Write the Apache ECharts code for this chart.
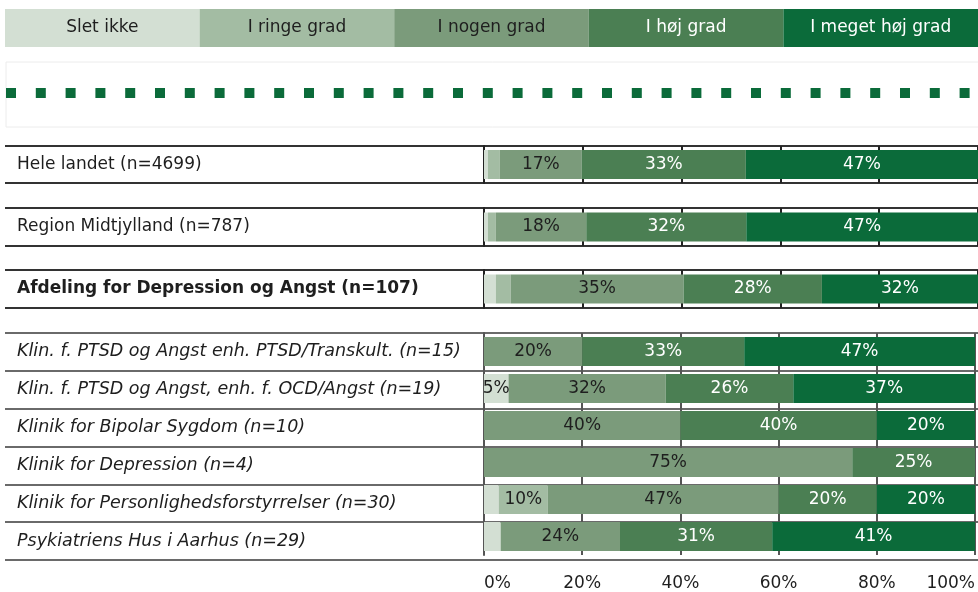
<!DOCTYPE html>
<html>
<head>
<meta charset="utf-8">
<script src="https://cdn.jsdelivr.net/npm/echarts@6/dist/echarts.min.js"></script>
<style>
  html, body { margin: 0; padding: 0; background: #fff; }
  #main { width: 978px; height: 592px; }
</style>
</head>
<body>
<div id="main"></div>
<script>
// svarkategorier (legend øverst)
var categories = ['Slet ikke', 'I ringe grad', 'I nogen grad', 'I høj grad', 'I meget høj grad'];
var colors = ['#d3dfd3', '#a3bca3', '#7b9b7b', '#4b7f53', '#0b6b3a'];
var labelColors = ['#1e1e1e', '#1e1e1e', '#1e1e1e', '#ffffff', '#ffffff'];

// rækker
var rowNames = [
    'Hele landet (n=4699)',
    'Region Midtjylland (n=787)',
    'Afdeling for Depression og Angst (n=107)',
    'Klin. f. PTSD og Angst enh. PTSD/Transkult. (n=15)',
    'Klin. f. PTSD og Angst, enh. f. OCD/Angst (n=19)',
    'Klinik for Bipolar Sygdom (n=10)',
    'Klinik for Depression (n=4)',
    'Klinik for Personlighedsforstyrrelser (n=30)',
    'Psykiatriens Hus i Aarhus (n=29)'
];

// procenter pr. svarkategori, samme rækkefølge som rowNames
var sletIkke   = [0.8, 0.8, 2.4, 0, 5, 0, 0, 3, 3.4];
var ringeGrad  = [2.4, 1.6, 3, 0, 0, 0, 0, 10, 0];
var nogenGrad  = [16.6, 18.3, 35, 20, 32, 40, 75, 47, 24.3];
var hoejGrad   = [33.2, 32.4, 28, 33, 26, 40, 25, 20, 31];
var megetHoej  = [47, 46.9, 31.6, 47, 37, 20, 0, 20, 41.3];
var allValues = [sletIkke, ringeGrad, nogenGrad, hoejGrad, megetHoej];

var xTicks = [0, 20, 40, 60, 80, 100];

// grupper af rækker
var groups = [
    { rows: [0], top: 146, height: 37, line: '#333', axis: '#222', weight: 'normal', style: 'normal', size: 17 },
    { rows: [1], top: 208, height: 38, line: '#333', axis: '#222', weight: 'normal', style: 'normal', size: 17 },
    { rows: [2], top: 270, height: 38, line: '#333', axis: '#222', weight: 'bold', style: 'normal', size: 17 },
    { rows: [3, 4, 5, 6, 7, 8], top: 333, height: 227, line: '#6a6a6a', axis: '#555', weight: 'normal', style: 'italic', size: 17.5, last: true }
];

var FONT = 'DejaVu Sans';
var grids = [], xAxes = [], yAxes = [], series = [];

// legend som farvede felter
grids.push({ left: 5, right: 0, top: 9, height: 38 });
xAxes.push({ gridIndex: 0, type: 'value', min: 0, max: 100, show: false });
yAxes.push({ gridIndex: 0, type: 'category', data: ['legend'], show: false });
categories.forEach(function (c, i) {
    series.push({
        type: 'bar', name: c, stack: 'legend', xAxisIndex: 0, yAxisIndex: 0,
        barWidth: 38, data: [100 / categories.length],
        itemStyle: { color: colors[i] },
        label: { show: true, position: 'inside', formatter: c, color: labelColors[i], fontFamily: FONT, fontSize: 17 },
        silent: true
    });
});

groups.forEach(function (g, gi) {
    var names = g.rows.map(function (r) { return rowNames[r]; });
    var labelGrid = grids.length;
    // grid til tekst og vandrette linjer (hele bredden)
    grids.push({ left: 5, right: 0, top: g.top, height: g.height });
    xAxes.push({ gridIndex: labelGrid, type: 'value', min: 0, max: 100, show: false });
    yAxes.push({
        gridIndex: labelGrid, type: 'category', inverse: true, data: names,
        axisLine: { show: false }, axisTick: { show: false },
        splitLine: { show: true, lineStyle: { color: g.line, width: 2 } },
        axisLabel: { inside: true, margin: 12, color: '#1e1e1e', fontFamily: FONT, fontSize: g.size, fontWeight: g.weight, fontStyle: g.style }
    });
    // grid til søjlerne
    var barGrid = grids.length;
    grids.push({ left: 484, right: 0, top: g.top, height: g.height });
    xAxes.push({
        gridIndex: barGrid, type: 'value', min: 0, max: 100, interval: 20,
        axisLine: { show: false }, axisTick: { show: false },
        splitLine: { show: true, lineStyle: { color: g.axis, width: 2 } },
        axisLabel: {
            show: !!g.last, margin: 20, color: '#1e1e1e', fontFamily: FONT, fontSize: 17,
            alignMinLabel: 'left', alignMaxLabel: 'right',
            formatter: function (v) { return v + '%'; }
        }
    });
    yAxes.push({
        gridIndex: barGrid, type: 'category', inverse: true, data: names,
        axisLine: { show: true, lineStyle: { color: g.axis, width: 2 } },
        axisTick: { show: false }, axisLabel: { show: false }, splitLine: { show: false }
    });
    allValues.forEach(function (vals, ci) {
        series.push({
            type: 'bar', name: categories[ci], stack: 'g' + gi,
            xAxisIndex: barGrid, yAxisIndex: barGrid, barWidth: 29,
            data: g.rows.map(function (r) { return vals[r]; }),
            itemStyle: { color: colors[ci] },
            label: {
                show: true, position: 'inside', color: labelColors[ci], fontFamily: FONT, fontSize: 17,
                formatter: function (p) { return p.value >= 4.5 ? Math.round(p.value) + '%' : ''; }
            },
            silent: true
        });
    });
});

var chart = echarts.init(document.getElementById('main'), null, { renderer: 'canvas' });
chart.setOption({
    animation: false,
    backgroundColor: '#fff',
    textStyle: { fontFamily: FONT },
    grid: grids,
    xAxis: xAxes,
    yAxis: yAxes,
    series: series,
    graphic: [
        // felt med prikket linje
        { type: 'rect', shape: { x: 6, y: 62, width: 980, height: 65 }, style: { fill: 'none', stroke: '#ececec', lineWidth: 1 }, silent: true },
        { type: 'line', shape: { x1: 6, y1: 93, x2: 978, y2: 93 }, style: { stroke: '#0b6b3a', lineWidth: 10, lineDash: [10, 19.8] }, silent: true }
    ]
});
</script>
</body>
</html>
